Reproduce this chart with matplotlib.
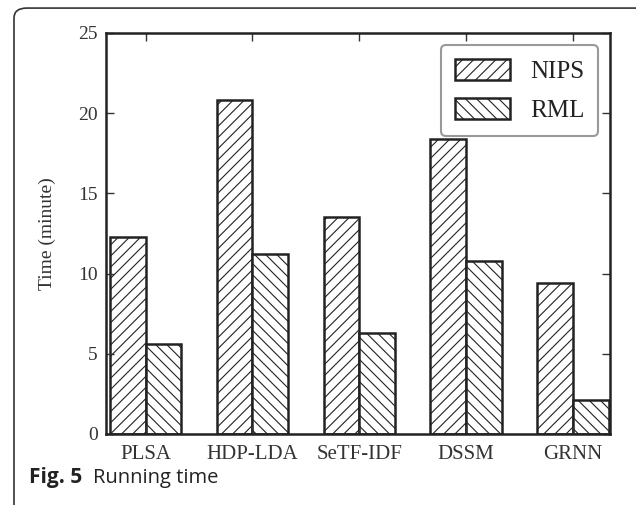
import numpy as np
import matplotlib
matplotlib.use('Agg')
import matplotlib.pyplot as plt
from matplotlib.patches import FancyBboxPatch

# Data
methods = ['PLSA', 'HDP-LDA', 'SeTF-IDF', 'DSSM', 'GRNN']
nips = [12.3, 20.8, 13.5, 18.4, 9.4]
rml = [5.6, 11.2, 6.3, 10.8, 2.1]

plt.rcParams['font.family'] = 'Liberation Serif'
plt.rcParams['hatch.linewidth'] = 0.8
plt.rcParams['hatch.color'] = '#444444'

fig = plt.figure(figsize=(6.36, 5.05), dpi=100)
ax = fig.add_axes([0.1667, 0.1406, 0.7923, 0.7941])

x = np.arange(len(methods))
w = 0.335
ax.bar(x - w / 2, nips, w, color='white', edgecolor='#222222', linewidth=1.8,
       hatch='///', label='NIPS')
ax.bar(x + w / 2, rml, w, color='white', edgecolor='#222222', linewidth=1.8,
       hatch='\\\\\\', label='RML')

ax.set_xlim(-0.37, 4.345)
ax.set_ylim(0, 25)
ax.set_xticks(x)
ax.set_xticklabels(methods, fontsize=15, color='#333333')
ax.set_yticks([0, 5, 10, 15, 20, 25])
ax.tick_params(axis='y', labelsize=14, labelcolor='#333333', pad=6)
ax.tick_params(direction='in', top=True, right=True, length=6, width=1, color='#333333')
ax.tick_params(axis='x', pad=8)
ax.set_ylabel('Time (minute)', fontsize=14, color='#333333', labelpad=16)
for s in ax.spines.values():
    s.set_linewidth(1.8)
    s.set_color('#222222')

leg = ax.legend(loc='upper right', fontsize=18, fancybox=True, framealpha=1,
                handlelength=2.2, handleheight=0.9, borderpad=0.55,
                labelspacing=0.6, handletextpad=0.8, borderaxespad=0,
                bbox_to_anchor=(0.977, 0.97))
leg.get_frame().set_edgecolor('#999999')
leg.get_frame().set_linewidth(1.5)
for t in leg.get_texts():
    t.set_color('#222222')

# Outer caption frame
frame = FancyBboxPatch((0.022, -0.05), 1.2, 1.034, boxstyle='round,pad=0,rounding_size=0.02',
                       transform=fig.transFigure, fill=False, edgecolor='#333333',
                       linewidth=1.2, clip_on=False)
fig.patches.append(frame)

fig.text(0.046, 0.043, 'Fig. 5', fontsize=15, fontweight='bold', family='Open Sans',
         color='#222222')
fig.text(0.146, 0.043, 'Running time', fontsize=14.5, family='Open Sans', color='#222222')

fig.savefig('out.png', dpi=100)
